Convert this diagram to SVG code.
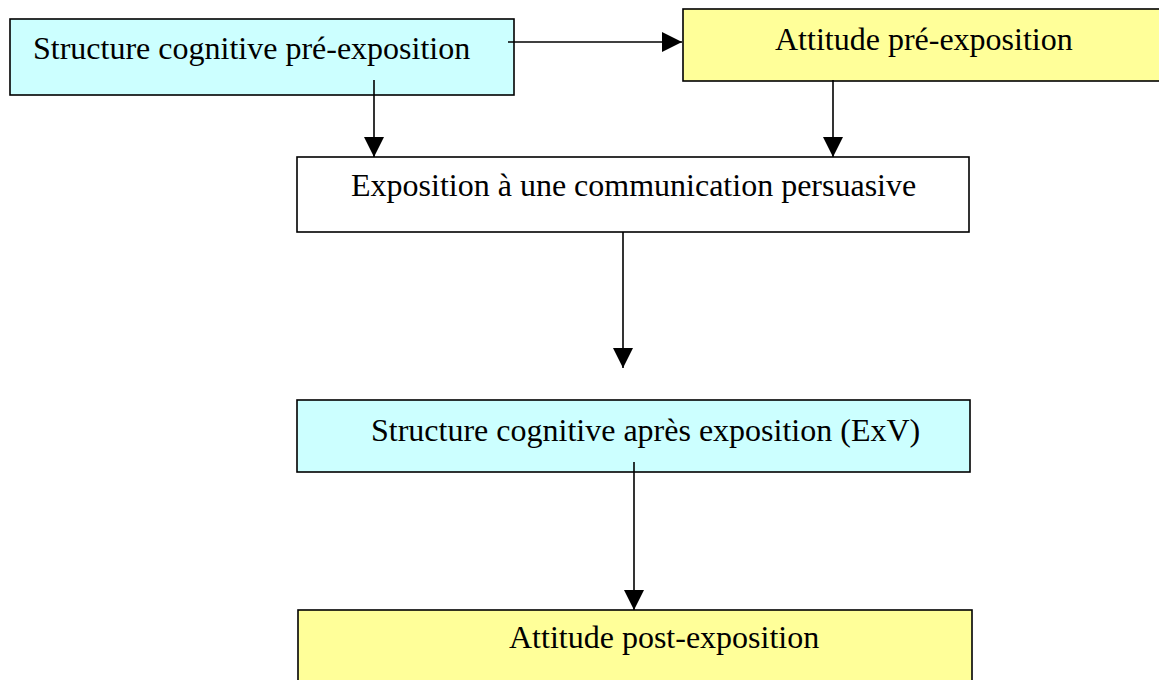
<svg xmlns="http://www.w3.org/2000/svg" width="1159" height="680" viewBox="0 0 1159 680">
<style>
.box{stroke:#000;stroke-width:1.6}
.cyan{fill:#CCFFFF}
.yellow{fill:#FFFF99}
.white{fill:#FFFFFF}
.lbl{font-family:"Liberation Serif","Times New Roman",serif;font-size:32px;fill:#000}
.conn{stroke:#000;stroke-width:1.6;fill:none;marker-end:url(#arr)}
</style>
<defs>
<marker id="arr" markerWidth="20" markerHeight="20" viewBox="0 0 20 20" refX="20" refY="10" orient="auto" markerUnits="userSpaceOnUse">
<path d="M0,0 L20,10 L0,20 Z" fill="#000"/>
</marker>
</defs>
<rect width="1159" height="680" fill="#fff"/>
<g id="n1">
<rect class="box cyan" x="10" y="19" width="504" height="76"/>
<text class="lbl" x="33" y="59">Structure cognitive pré-exposition</text>
</g>
<g id="n2">
<rect class="box yellow" x="683" y="9" width="490" height="72"/>
<text class="lbl" x="775" y="50">Attitude pré-exposition</text>
</g>
<g id="n3">
<rect class="box white" x="297" y="157" width="672" height="75"/>
<text class="lbl" x="351" y="196">Exposition à une communication persuasive</text>
</g>
<g id="n4">
<rect class="box cyan" x="297" y="400" width="673" height="72"/>
<text class="lbl" x="371" y="441">Structure cognitive après exposition (ExV)</text>
</g>
<g id="n5">
<rect class="box yellow" x="298" y="610" width="674" height="90"/>
<text class="lbl" x="509" y="648">Attitude post-exposition</text>
</g>
<g id="connectors">
<line class="conn" x1="508" y1="42" x2="682" y2="42"/>
<line class="conn" x1="374" y1="80" x2="374" y2="157"/>
<line class="conn" x1="833" y1="80" x2="833" y2="157"/>
<line class="conn" x1="623" y1="232" x2="623" y2="368"/>
<line class="conn" x1="634" y1="462" x2="634" y2="610"/>
</g>
</svg>
